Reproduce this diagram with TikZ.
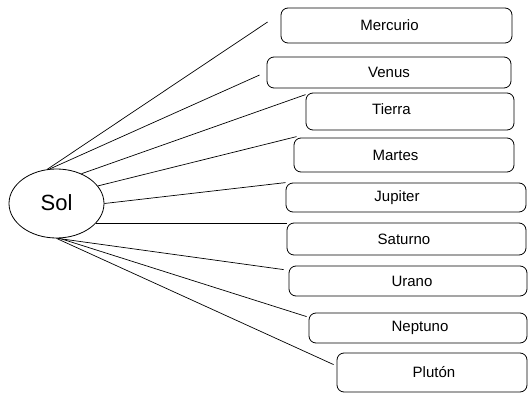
\documentclass[tikz,border=0pt]{standalone}
\usepackage{fontspec}
\setmainfont{Liberation Sans}
\usetikzlibrary{shapes.geometric}
\begin{document}
\begin{tikzpicture}[
      x=1pt,
      y=-1pt,
      line width=0.8pt,
      planeta/.style = {draw, rounded corners=7pt, inner sep=0pt},
      rayo/.style = {draw, line width=0.7pt}
    ]
    \useasboundingbox (0,0) rectangle (528,393);

    \node[draw, ellipse, minimum width=95, minimum height=69, inner sep=0pt,
      font=\fontsize{22}{26}\selectfont] (sol) at (56.5,203.5) {\raisebox{2pt}{Sol}};

    \begin{scope}[every label/.style={inner sep=0pt, font=\fontsize{15}{18}\selectfont}]
      \node[planeta, minimum width=231, minimum height=35,
        label={[xshift=-7pt]center:Mercurio}] (mercurio) at (396.5,25.5) {};
      \node[planeta, minimum width=244, minimum height=31,
        label={center:Venus}] (venus) at (389,72.5) {};
      \node[planeta, minimum width=208, minimum height=37,
        label={[xshift=-18.5pt,yshift=2pt]center:Tierra}] (tierra) at (410,111.5) {};
      \node[planeta, minimum width=220, minimum height=34,
        label={[xshift=-8.5pt]center:Martes}] (martes) at (404,155) {};
      \node[planeta, minimum width=240, minimum height=29,
        label={[xshift=-9pt]center:Jupiter}] (jupiter) at (406,197.5) {};
      \node[planeta, minimum width=239, minimum height=32,
        label={[xshift=-2.5pt]center:Saturno}] (saturno) at (406.5,239) {};
      \node[planeta, minimum width=238, minimum height=30,
        label={[xshift=4pt]center:Urano}] (urano) at (408,281) {};
      \node[planeta, minimum width=218, minimum height=30,
        label={[xshift=2pt]center:Neptuno}] (neptuno) at (418,328) {};
      \node[planeta, minimum width=190, minimum height=39,
        label={[xshift=2pt]center:Plutón}] (pluton) at (432,372.5) {};
    \end{scope}

    \draw[rayo] (sol.105) -- ([xshift=-13pt,yshift=3.5pt]mercurio.west);
    \draw[rayo] (sol.101) -- ([xshift=-7pt,yshift=-2.5pt]venus.west);
    \draw[rayo] (sol.50) -- ([yshift=-2pt]tierra.north west);
    \draw[rayo] (sol.23) -- ([xshift=3pt,yshift=1pt]martes.north west);
    \draw[rayo] (sol.0) -- (jupiter.north west);
    \draw[rayo] (sol.-26) -- (sol.-26 -| saturno.north west);
    \draw[rayo] (sol.-88) -- ([xshift=-5pt,yshift=-4pt]urano.north west);
    \draw[rayo] (sol.-85) -- ([xshift=-2pt,yshift=-4pt]neptuno.north west);
    \draw[rayo] (sol.-90) -- ([xshift=-3pt,yshift=-12pt]pluton.north west);
  \end{tikzpicture}
\end{document}
